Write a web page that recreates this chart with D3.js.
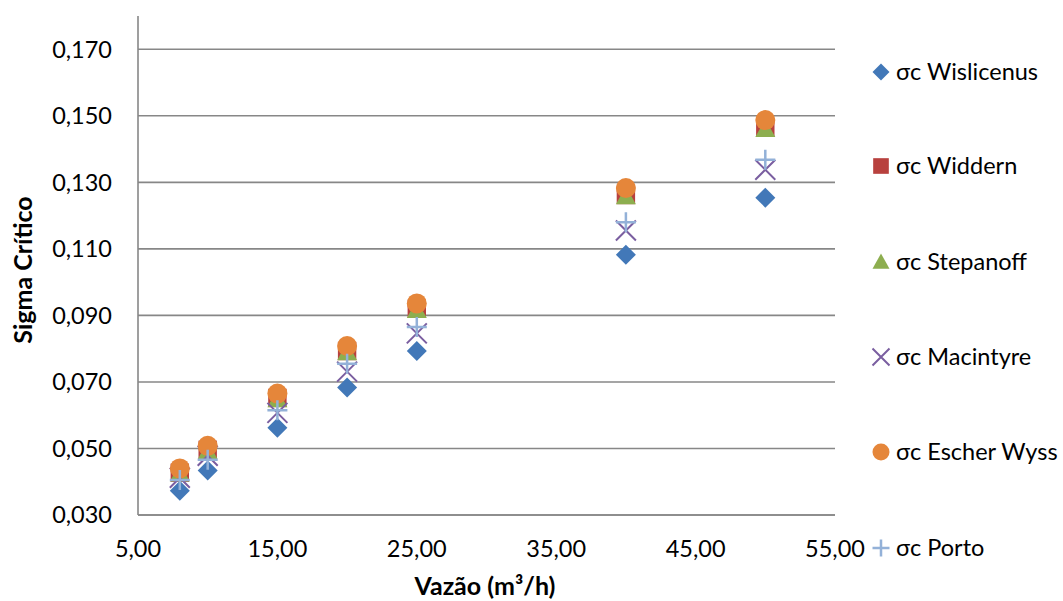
<!DOCTYPE html>
<html>
<head>
<meta charset="utf-8">
<script src="https://cdn.jsdelivr.net/npm/d3@7"></script>
<style>
  body { margin: 0; background: #fff; }
  svg { display: block; font-family: Lato, "Open Sans", sans-serif; }
</style>
</head>
<body>
<svg id="chart" width="1063" height="601"></svg>
<script>
// Flow rates (m³/h)
const vazao = [8, 10, 15, 20, 25, 40, 50];

// Critical sigma per method
const wislicenus = [0.0373, 0.0434, 0.0562, 0.0683, 0.0793, 0.1082, 0.1254];
const widdern    = [0.0427, 0.0496, 0.0652, 0.0793, 0.0920, 0.1262, 0.1464];
const stepanoff  = [0.0425, 0.0492, 0.0648, 0.0789, 0.0916, 0.1258, 0.1460];
const macintyre  = [0.0412, 0.0478, 0.0607, 0.0731, 0.0846, 0.1155, 0.1338];
const escherWyss = [0.0440, 0.0508, 0.0665, 0.0808, 0.0936, 0.1283, 0.1487];
const porto      = [0.0405, 0.0466, 0.0615, 0.0755, 0.0865, 0.1180, 0.1368];

const seriesNames = ["σc Wislicenus", "σc Widdern", "σc Stepanoff", "σc Macintyre", "σc Escher Wyss", "σc Porto"];

const xTicks = [5, 15, 25, 35, 45, 55];
const yTicks = [0.03, 0.05, 0.07, 0.09, 0.11, 0.13, 0.15, 0.17];

const seriesList = [
  { name: seriesNames[0], values: wislicenus, shape: "diamond", color: "#4278b8" },
  { name: seriesNames[1], values: widdern,    shape: "square",  color: "#b8413e" },
  { name: seriesNames[2], values: stepanoff,  shape: "triangle",color: "#8dae4f" },
  { name: seriesNames[3], values: macintyre,  shape: "cross",   color: "#7a5ea0" },
  { name: seriesNames[4], values: escherWyss, shape: "circle",  color: "#e5863a" },
  { name: seriesNames[5], values: porto,      shape: "plus",    color: "#93b1d8" }
];

const svg = d3.select("#chart");
const plotLeft = 138, plotRight = 835, plotTop = 16, plotBottom = 515;

const x = d3.scaleLinear().domain([5, 55]).range([plotLeft, plotRight]);
const y = d3.scaleLinear().domain([0.03, 0.18]).range([plotBottom, plotTop]);

const fmtX = v => d3.format(".2f")(v).replace(".", ",");
const fmtY = v => d3.format(".3f")(v).replace(".", ",");

// Horizontal gridlines
svg.append("g")
  .selectAll("line")
  .data(yTicks)
  .join("line")
  .attr("x1", plotLeft).attr("x2", plotRight)
  .attr("y1", d => y(d)).attr("y2", d => y(d))
  .attr("stroke", "#878787").attr("stroke-width", 1.6);

// Axis lines
svg.append("line").attr("x1", plotLeft).attr("x2", plotLeft).attr("y1", plotTop).attr("y2", plotBottom)
  .attr("stroke", "#878787").attr("stroke-width", 1.6);
svg.append("line").attr("x1", plotLeft).attr("x2", plotRight).attr("y1", plotBottom).attr("y2", plotBottom)
  .attr("stroke", "#878787").attr("stroke-width", 1.6);

// Tick labels
svg.append("g")
  .selectAll("text")
  .data(yTicks)
  .join("text")
  .attr("x", plotLeft - 26)
  .attr("y", d => y(d))
  .attr("dy", "0.36em")
  .attr("text-anchor", "end")
  .attr("font-size", 23.5)
  .attr("fill", "#000")
  .text(fmtY);

svg.append("g")
  .selectAll("text")
  .data(xTicks)
  .join("text")
  .attr("x", d => x(d))
  .attr("y", 557)
  .attr("text-anchor", "middle")
  .attr("font-size", 23.5)
  .attr("fill", "#000")
  .text(fmtX);

// Axis titles
svg.append("text")
  .attr("transform", `translate(32, 270) rotate(-90)`)
  .attr("text-anchor", "middle")
  .attr("font-size", 25)
  .attr("font-weight", "bold")
  .text("Sigma Crítico");

svg.append("text")
  .attr("x", 485).attr("y", 595)
  .attr("text-anchor", "middle")
  .attr("font-size", 25)
  .attr("font-weight", "bold")
  .text("Vazão (m³/h)");

// Marker drawing
function drawMarker(g, shape, color, size) {
  const h = size / 2;
  switch (shape) {
    case "diamond":
      g.append("path").attr("d", `M0,${-h}L${h},0L0,${h}L${-h},0Z`).attr("fill", color);
      break;
    case "square":
      g.append("rect").attr("x", -h * 0.92).attr("y", -h * 0.92)
        .attr("width", size * 0.92).attr("height", size * 0.92).attr("fill", color);
      break;
    case "triangle":
      g.append("path").attr("d", `M0,${-h}L${h},${h * 0.8}L${-h},${h * 0.8}Z`).attr("fill", color);
      break;
    case "circle":
      g.append("circle").attr("r", h).attr("fill", color);
      break;
    case "cross":
      g.append("path").attr("d", `M${-h},${-h}L${h},${h}M${h},${-h}L${-h},${h}`)
        .attr("stroke", color).attr("stroke-width", 2).attr("fill", "none");
      break;
    case "plus":
      g.append("path").attr("d", `M0,${-h}L0,${h}M${-h},0L${h},0`)
        .attr("stroke", color).attr("stroke-width", 2.5).attr("fill", "none");
      break;
  }
}

// Points
seriesList.forEach(s => {
  const grp = svg.append("g");
  s.values.forEach((v, i) => {
    const m = grp.append("g").attr("transform", `translate(${x(vazao[i])},${y(v)})`);
    drawMarker(m, s.shape, s.color, 20);
  });
});

// Legend
const legendY = [72, 166, 262, 357, 452, 548];
seriesList.forEach((s, i) => {
  const lg = svg.append("g").attr("transform", `translate(881,${legendY[i]})`);
  drawMarker(lg.append("g"), s.shape, s.color, 17);
  lg.append("text").attr("x", 15).attr("dy", "0.36em")
    .attr("font-size", 23.5).attr("fill", "#000").text(s.name);
});
</script>
</body>
</html>
